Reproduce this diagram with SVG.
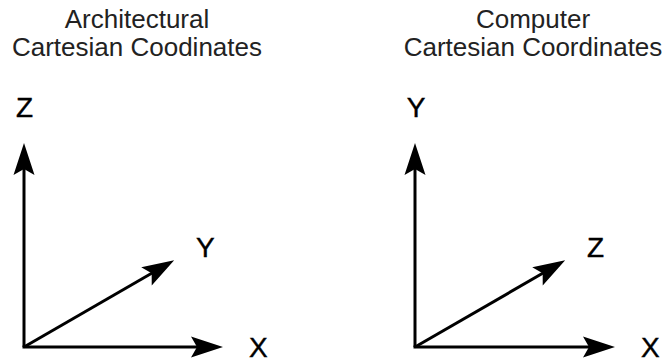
<svg xmlns="http://www.w3.org/2000/svg" width="666" height="362" viewBox="0 0 666 362">
  <style>
    .title { font-family: "Liberation Sans", Arial, sans-serif; font-size: 26px; fill: #222; text-anchor: middle; }
    .axlabel { font-family: "Liberation Sans", Arial, sans-serif; font-size: 28px; fill: #000; stroke: #000; stroke-width: 0.4; }
    .axis { fill: none; stroke: #000; stroke-width: 3; stroke-linejoin: miter; }
  </style>
  <defs>
    <marker id="arrow" markerUnits="userSpaceOnUse" markerWidth="36" markerHeight="24" viewBox="0 -12 36 24" refX="26" refY="0" orient="auto" overflow="visible">
      <path d="M32,0 L0,-10.5 L6,0 L0,10.5 Z" fill="#000"/>
    </marker>
  </defs>
  <rect width="666" height="362" fill="#fff"/>

  <g id="title-left">
    <text class="title" x="137" y="28">Architectural</text>
    <text class="title" x="137" y="56">Cartesian Coodinates</text>
  </g>
  <g id="title-right">
    <text class="title" x="533" y="28">Computer</text>
    <text class="title" x="533" y="56">Cartesian Coordinates</text>
  </g>

  <g id="connectors">
    <path class="axis" d="M24,347 L24,149" marker-end="url(#arrow)"/>
    <path class="axis" d="M22.5,347 L217,347" marker-end="url(#arrow)"/>
    <path class="axis" d="M24,347 L169,263.3" marker-end="url(#arrow)"/>
    <path class="axis" d="M415,347 L415,149" marker-end="url(#arrow)"/>
    <path class="axis" d="M413.5,347 L609,347" marker-end="url(#arrow)"/>
    <path class="axis" d="M415,347 L560,263.3" marker-end="url(#arrow)"/>
  </g>

  <g id="labels-left">
    <text class="axlabel" x="24.5" y="117" text-anchor="middle">Z</text>
    <text class="axlabel" x="196" y="257">Y</text>
    <text class="axlabel" x="249" y="357">X</text>
  </g>
  <g id="labels-right">
    <text class="axlabel" x="416" y="117" text-anchor="middle">Y</text>
    <text class="axlabel" x="587" y="257">Z</text>
    <text class="axlabel" x="641" y="357">X</text>
  </g>
</svg>
